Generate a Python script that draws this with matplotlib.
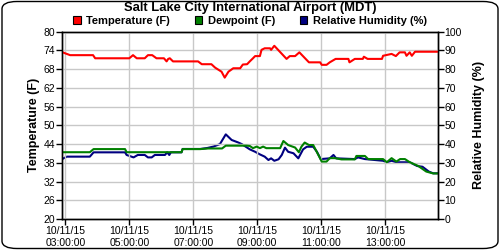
import matplotlib
matplotlib.use("Agg")
import matplotlib.pyplot as plt
import matplotlib.dates as mdates
from matplotlib.patches import Patch, FancyBboxPatch
import pandas as pd

DAY = "2015-10-11 "

temp_times = ["02:55", "03:09", "03:52", "03:56", "05:00", "05:07", "05:14", "05:29",
              "05:35", "05:43", "05:51", "06:05", "06:10", "06:13", "06:16", "06:22",
              "07:09", "07:16", "07:34", "07:41", "07:53", "07:59", "08:06", "08:15",
              "08:28", "08:33", "08:41", "08:46", "08:52", "08:56", "09:05", "09:08",
              "09:14", "09:24", "09:26", "09:32", "09:55", "10:01", "10:11", "10:19",
              "10:37", "10:58", "11:01", "11:10", "11:16", "11:27", "11:51", "11:53",
              "12:03", "12:18", "12:20", "12:27", "12:54", "12:56", "13:12", "13:20",
              "13:27", "13:37", "13:40", "13:46", "13:50", "13:56", "14:37"]
temp_vals = [73.4, 72.5, 72.5, 71.5, 71.5, 72.5, 71.5, 71.5,
             72.5, 72.5, 71.5, 71.5, 70.5, 71.3, 71.5, 70.5,
             70.5, 69.6, 69.6, 68.5, 67.2, 65.3, 67.2, 68.3,
             68.3, 69.5, 69.6, 70.5, 71.5, 72.2, 72.2, 74.2,
             74.7, 74.7, 74.2, 75.5, 71.3, 72.2, 72.2, 73.4,
             70.2, 70.2, 69.4, 69.4, 70.2, 71.3, 71.3, 70.2,
             71.3, 71.3, 72.0, 71.3, 71.3, 72.3, 72.9, 72.2,
             73.4, 73.4, 72.3, 73.4, 72.3, 73.6, 73.6]

dew_times = ["02:54", "03:46", "03:53", "04:52", "04:55", "06:38", "06:40", "07:13",
             "07:28", "07:54", "08:01", "08:40", "08:46", "08:52", "08:59", "09:05",
             "09:11", "09:17", "09:43", "09:49", "09:58", "10:11", "10:18", "10:23",
             "10:29", "10:37", "10:45", "11:01", "11:10", "11:16", "11:26", "11:38",
             "12:03", "12:06", "12:22", "12:28", "12:56", "13:03", "13:12", "13:21",
             "13:28", "13:37", "13:46", "14:02", "14:17", "14:30", "14:37"]
dew_vals = [41.4, 41.4, 42.4, 42.4, 41.4, 41.4, 42.4, 42.4,
            42.6, 42.6, 43.5, 43.5, 43.4, 42.7, 43.2, 42.7,
            43.2, 42.7, 42.7, 45.0, 43.7, 42.9, 41.4, 43.2,
            44.5, 43.7, 43.7, 38.4, 38.4, 39.5, 39.5, 39.1,
            39.1, 40.2, 40.2, 39.2, 39.2, 38.2, 39.5, 38.4,
            39.2, 39.2, 38.2, 37.0, 35.2, 34.6, 34.6]

rh_times = ["02:54", "03:03", "03:46", "03:53", "04:52", "04:55", "05:08", "05:16",
            "05:29", "05:35", "05:42", "05:48", "06:07", "06:11", "06:15", "06:18",
            "06:38", "06:40", "07:13", "07:26", "07:38", "07:50", "08:01", "08:12",
            "08:24", "08:31", "08:46", "08:56", "09:05", "09:14", "09:21", "09:26",
            "09:32", "09:40", "09:46", "09:52", "09:58", "10:08", "10:17", "10:26",
            "10:33", "10:45", "10:52", "10:59", "11:16", "11:23", "11:28", "12:03",
            "12:09", "12:22", "12:56", "13:03", "13:12", "13:21", "13:46", "14:00",
            "14:10", "14:22", "14:30", "14:37"]
rh_vals = [32.0, 33.3, 33.3, 35.6, 35.6, 34.2, 32.9, 34.2,
           34.2, 32.9, 32.9, 34.2, 34.2, 35.6, 34.2, 35.6,
           35.6, 37.4, 37.4, 37.9, 38.7, 40.0, 45.2, 42.2,
           40.9, 40.0, 37.2, 35.9, 34.5, 33.3, 31.5, 32.4,
           31.1, 31.9, 34.2, 38.1, 35.9, 35.1, 32.4, 37.2,
           38.6, 38.6, 35.9, 32.0, 32.4, 34.2, 32.4, 32.0,
           32.9, 32.0, 31.1, 30.3, 31.1, 30.3, 30.3, 28.3,
           27.9, 25.3, 24.4, 24.4]

temp_ticks = list(range(20, 81, 6))
rh_ticks = list(range(0, 101, 10))


def to_dt(times):
    return pd.to_datetime([DAY + t for t in times])


font = ["Liberation Sans", "DejaVu Sans"]
plt.rcParams["font.family"] = font

fig = plt.figure(figsize=(5, 2.5), dpi=100)
ax = fig.add_axes([0.1246, 0.124, 0.7508, 0.749])
ax2 = ax.twinx()
# dewpoint drawn over humidity
ax.set_zorder(ax2.get_zorder() + 1)
ax.patch.set_visible(False)

ax2.plot(to_dt(rh_times), rh_vals, color="#000080", lw=1.5)
ax.plot(to_dt(dew_times), dew_vals, color="#008000", lw=1.5)
ax.plot(to_dt(temp_times), temp_vals, color="#ff0000", lw=1.5)

ax.set_xlim(pd.Timestamp(DAY + "02:54:20"), pd.Timestamp(DAY + "14:38:30"))
ax.set_ylim(20, 80)
ax2.set_ylim(0, 100)
ax.set_yticks(temp_ticks)
ax2.set_yticks(rh_ticks)

ax.xaxis.set_major_locator(mdates.HourLocator(byhour=range(3, 24, 2)))
ax.xaxis.set_major_formatter(mdates.DateFormatter("%m/%d/%y\n%H:%M:%S"))

ax.grid(True, color="#c8c8c8", lw=1)
for a in (ax, ax2):
    a.tick_params(direction="out", length=4, width=1, labelsize=7.5, pad=1,
                  colors="black")
    for s in a.spines.values():
        s.set_linewidth(1)

ax.set_ylabel("Temperature (F)", fontsize=9, fontweight="bold", labelpad=3)
ax2.set_ylabel("Relative Humidity (%)", fontsize=9, fontweight="bold", labelpad=8)

fig.text(0.5, 0.968, "Salt Lake City International Airport (MDT)", ha="center",
         va="center", fontsize=9.4, fontweight="bold")

handles = [Patch(facecolor="#ff0000", edgecolor="black", lw=0.8),
           Patch(facecolor="#008000", edgecolor="black", lw=0.8),
           Patch(facecolor="#000080", edgecolor="black", lw=0.8)]
labels = ["Temperature (F)", "Dewpoint (F)", "Relative Humidity (%)"]
fig.legend(handles, labels, loc="center", bbox_to_anchor=(0.5, 0.917), ncol=3,
           frameon=False, handlelength=0.7, handleheight=0.7, handletextpad=0.5,
           columnspacing=2.2, prop={"size": 8, "weight": "bold"}, borderpad=0)

fig.patches.append(FancyBboxPatch((0.004, 0.006), 0.992, 0.988,
                                  boxstyle="round,pad=0,rounding_size=0.03",
                                  transform=fig.transFigure, fill=False,
                                  edgecolor="black", lw=1))

fig.savefig("out.png", dpi=100)
